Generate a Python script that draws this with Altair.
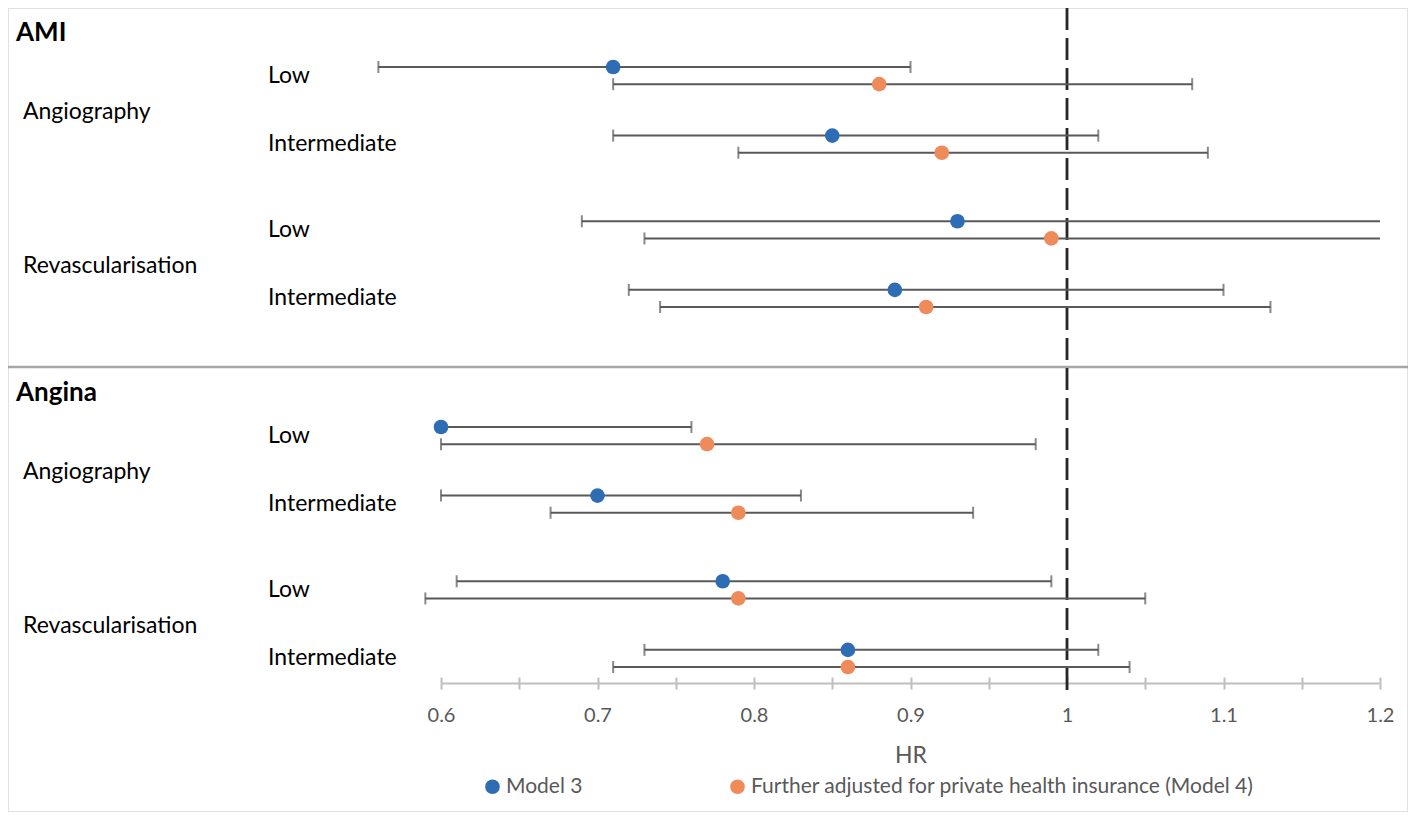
import altair as alt
import pandas as pd

# ---------------- data ----------------
outcomes = ["AMI", "Angina"]
procedures = ["Angiography", "Revascularisation"]
levels = ["Low", "Intermediate"]
models = ["Model 3", "Further adjusted for private health insurance (Model 4)"]
model_colors = ["#2E6DB4", "#EF8A5A"]

# order: outcome > procedure > level > model
hr_values = [0.71, 0.88, 0.85, 0.92, 0.93, 0.99, 0.89, 0.91,
             0.60, 0.77, 0.70, 0.79, 0.78, 0.79, 0.86, 0.86]
ci_lower = [0.56, 0.71, 0.71, 0.79, 0.69, 0.73, 0.72, 0.74,
            0.60, 0.60, 0.60, 0.67, 0.61, 0.59, 0.73, 0.71]
ci_upper = [0.90, 1.08, 1.02, 1.09, 1.20, 1.20, 1.10, 1.13,
            0.76, 0.98, 0.83, 0.94, 0.99, 1.05, 1.02, 1.04]
axis_ticks = [0.6, 0.65, 0.7, 0.75, 0.8, 0.85, 0.9, 0.95, 1.0,
              1.05, 1.1, 1.15, 1.2]
reference_hr = [1.0]

# ---------------- layout (code, not data) ----------------
W, H = 1400, 804
FONT = "Lato"


def slot(o, p, l, m=0):
    return 4 + o * 21 + p * 9 + l * 4 + m


rows, level_rows, proc_rows, title_rows = [], [], [], []
i = 0
for o, out in enumerate(outcomes):
    title_rows.append({"label": out, "slot": slot(o, 0, 0) - 2.0})
    for p, proc in enumerate(procedures):
        proc_rows.append({"label": proc, "slot": slot(o, p, 0) + 2.6})
        for l, lev in enumerate(levels):
            level_rows.append({"label": lev, "slot": slot(o, p, l) + 0.5})
            for m, mod in enumerate(models):
                rows.append({
                    "outcome": out, "procedure": proc, "level": lev,
                    "model": mod, "hr": hr_values[i], "lo": ci_lower[i],
                    "hi": ci_upper[i], "slot": slot(o, p, l, m),
                })
                i += 1

df = pd.DataFrame(rows)
levels_df = pd.DataFrame(level_rows)
procs_df = pd.DataFrame(proc_rows)
titles_df = pd.DataFrame(title_rows)
sep_df = pd.DataFrame({"slot": [21.5]})
ref_df = pd.DataFrame({"hr": reference_hr})

xscale = alt.Scale(domain=[0.6, 1.2], range=[433, 1372], nice=False, zero=False)
yscale = alt.Scale(domain=[4, 39], range=[59, 659], nice=False, zero=False)

bottom_axis = alt.Axis(
    values=axis_ticks, orient="bottom", offset=-129, grid=False,
    domainColor="#BFBFBF", domainWidth=2,
    tickColor="#BFBFBF", tickWidth=2, tickSize=6,
    labelExpr="round(datum.value*100) % 10 == 0 ? (datum.value == 1 ? '1' : format(datum.value, '.1f')) : ''",
    labelFont=FONT, labelFontSize=20, labelColor="#595959", labelPadding=16,
    labelOverlap=False, labelFlush=False,
    title="HR", titleFont=FONT, titleFontSize=23, titleColor="#595959",
    titleFontWeight="normal", titleY=72, titleBaseline="middle",
)
top_axis = alt.Axis(
    values=axis_ticks, orient="top", offset=-675, grid=False,
    domain=False, labels=False, tickColor="#BFBFBF", tickWidth=2,
    tickSize=6, title=None,
)

separator = alt.Chart(sep_df).mark_rule(color="#A6A6A6", strokeWidth=2.5).encode(
    y=alt.Y("slot:Q", scale=yscale, axis=None),
    x=alt.value(0), x2=alt.value(W),
)

ref_line = alt.Chart(ref_df).mark_rule(
    color="#262626", strokeWidth=2.8, strokeDash=[22, 8]
).encode(
    x=alt.X("hr:Q", scale=xscale, axis=None),
    y=alt.value(0), y2=alt.value(682),
)

ci = alt.Chart(df).mark_rule(color="#595959", strokeWidth=2).encode(
    x=alt.X("lo:Q", scale=xscale, axis=top_axis),
    x2="hi:Q",
    y=alt.Y("slot:Q", scale=yscale, axis=None),
)

caps = alt.Chart(df).transform_fold(
    ["lo", "hi"], as_=["side", "end"]
).transform_filter(
    "datum.end < 1.2"
).mark_tick(orient="vertical", color="#595959", size=12, thickness=2).encode(
    x=alt.X("end:Q", scale=xscale, axis=None),
    y=alt.Y("slot:Q", scale=yscale, axis=None),
)

points = alt.Chart(df).mark_circle(size=215, opacity=1).encode(
    x=alt.X("hr:Q", scale=xscale, axis=bottom_axis),
    y=alt.Y("slot:Q", scale=yscale, axis=None),
    color=alt.Color(
        "model:N",
        scale=alt.Scale(domain=models, range=model_colors),
        legend=alt.Legend(
            title=None, orient="none", legendX=474, legendY=768,
            direction="horizontal", symbolType="circle", symbolSize=215,
            symbolStrokeWidth=0, symbolOpacity=1, labelFont=FONT,
            labelFontSize=21, labelColor="#595959", labelOffset=3,
            columnPadding=144, padding=0, labelLimit=800,
        ),
    ),
)

level_text = alt.Chart(levels_df).mark_text(
    align="left", baseline="middle", font=FONT, fontSize=23, color="black"
).encode(
    x=alt.value(260),
    y=alt.Y("slot:Q", scale=yscale, axis=None),
    text="label:N",
)

proc_text = alt.Chart(procs_df).mark_text(
    align="left", baseline="middle", font=FONT, fontSize=23, color="black"
).encode(
    x=alt.value(15),
    y=alt.Y("slot:Q", scale=yscale, axis=None),
    text="label:N",
)

title_text = alt.Chart(titles_df).mark_text(
    align="left", baseline="middle", font=FONT, fontSize=26,
    fontWeight="bold", color="black"
).encode(
    x=alt.value(8),
    y=alt.Y("slot:Q", scale=yscale, axis=None),
    text="label:N",
)

chart = alt.layer(
    separator, ref_line, ci, caps, points, level_text, proc_text, title_text
).resolve_axis(x="independent").properties(
    width=W, height=H, padding=0, autosize="none"
).configure_view(stroke="#D9D9D9", strokeWidth=1.5)

chart.save("out.html", embed_options={"renderer": "svg", "actions": False})
